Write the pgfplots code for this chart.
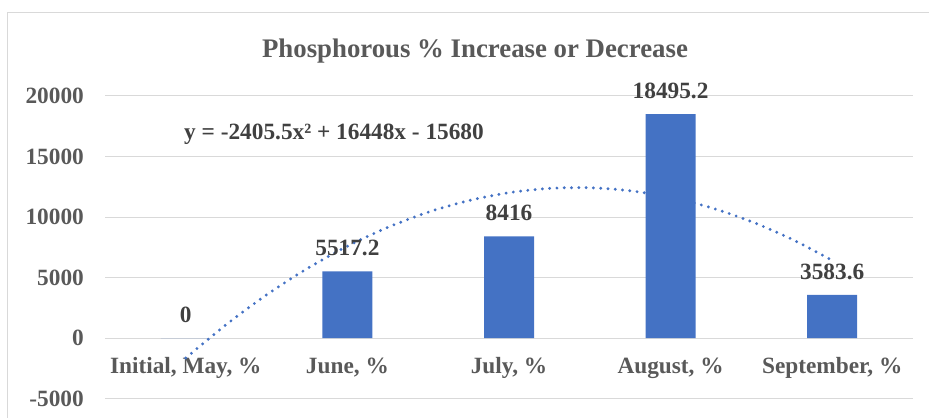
\documentclass[border=0pt]{standalone}
\usepackage{fontspec}
\setmainfont{Liberation Serif}
\usepackage{pgfplots}
\pgfplotsset{compat=1.18}
\definecolor{barblue}{HTML}{4472C4}
\definecolor{gridgray}{HTML}{D9D9D9}
\definecolor{ticktext}{HTML}{595959}
\definecolor{labeltext}{HTML}{404040}
\newcommand{\lbl}{\fontsize{23.3bp}{28bp}\selectfont\bfseries}
\begin{document}
\begin{tikzpicture}
\useasboundingbox (0,0) rectangle (929bp,418bp);
\draw[gridgray, line width=1bp] (7bp,0) -- (7bp,405bp) -- (929bp,405bp);
\begin{axis}[
  at={(105bp,19.3bp)}, anchor=south west,
  scale only axis, width=808bp, height=302.7bp,
  xmin=-0.5, xmax=4.5, ymin=-5000, ymax=20000,
  axis line style={draw=none},
  major tick length=0pt,
  scaled y ticks=false,
  xtick={0,...,4},
  xticklabels={{Initial, May, \%},{June, \%},{July, \%},{August, \%},{September, \%}},
  ytick={-5000,0,5000,10000,15000,20000},
  yticklabels={-5000,0,5000,10000,15000,20000},
  ymajorgrids, grid style={gridgray, line width=1bp},
  xticklabel style={font=\lbl, text=ticktext, anchor=base, yshift=25.7bp},
  yticklabel style={font=\lbl, text=ticktext, anchor=east, inner sep=0pt, xshift=-21bp},
]
\addplot[barblue, line width=3.2bp, line cap=round, dash pattern=on 0pt off 7.3bp, smooth] coordinates {
(0,-1637.5) (0.25,1121.41) (0.5,3579.63) (0.75,5737.16) (1,7594) (1.25,9150.16)
(1.5,10405.63) (1.75,11360.41) (2,12014.5) (2.25,12367.91) (2.5,12420.63)
(2.75,12172.66) (3,11624) (3.25,10774.66) (3.5,9624.63) (3.75,8173.91) (4,6422.5)
};
\addplot[ybar, bar width=50bp, fill=barblue, draw=none,
  nodes near coords, point meta=explicit symbolic,
  every node near coord/.append style={font=\lbl, text=labeltext, inner sep=0pt, yshift=15bp}]
  table[meta=label] {
x y label
0 0 0
1 5517.2 5517.2
2 8416 8416
3 18495.2 18495.2
4 3583.6 3583.6
};
\end{axis}
\node[font=\fontsize{26.8bp}{32bp}\selectfont\bfseries, text=ticktext, anchor=base] at (475bp,360.7bp) {Phosphorous \% Increase or Decrease};
\node[font=\lbl, text=labeltext, anchor=base, inner sep=0pt] at (334bp,278bp) {y = -2405.5x² + 16448x - 15680};
\end{tikzpicture}
\end{document}
